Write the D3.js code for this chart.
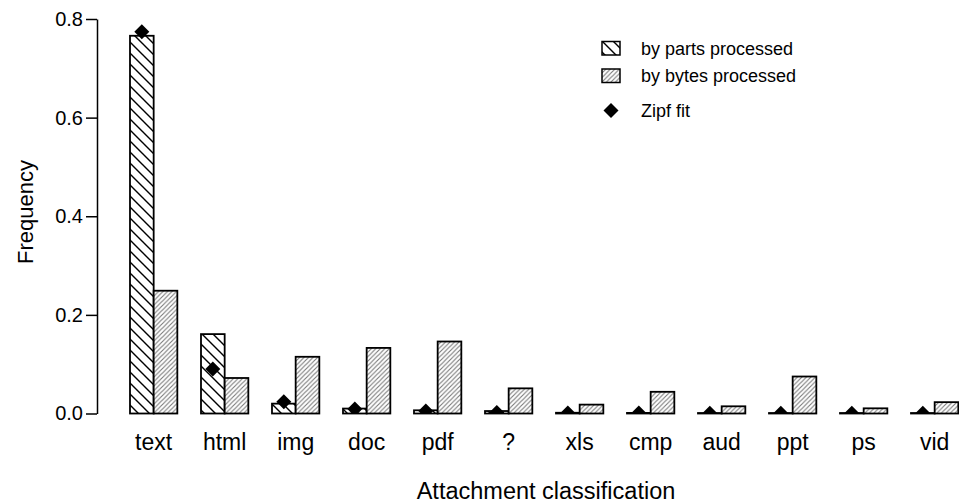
<!DOCTYPE html>
<html><head><meta charset="utf-8">
<script src="https://cdn.jsdelivr.net/npm/d3@7"></script>
<style>
html,body{margin:0;padding:0;background:#fff;}
svg{display:block;font-family:"Liberation Sans",Arial,Helvetica,sans-serif;}
</style></head>
<body>
<svg id="chart" width="959" height="503"></svg>
<script>
const categories = ["text","html","img","doc","pdf","?","xls","cmp","aud","ppt","ps","vid"];
const partsValues = [0.766,0.161,0.020,0.010,0.0065,0.005,0.0015,0.0012,0.001,0.001,0.001,0.001];
const bytesValues = [0.249,0.072,0.115,0.133,0.146,0.051,0.018,0.044,0.0146,0.075,0.0105,0.023];
const zipfValues  = [0.774,0.090,0.024,0.009,0.005,0.002,0.001,0.0008,0.0007,0.0006,0.0005,0.0005];
const yTicks = [0,0.2,0.4,0.6,0.8];
const legendLabels = ["by parts processed","by bytes processed","Zipf fit"];

const svg = d3.select("#chart");
const x = d3.scaleLinear().domain([0,36]).range([106.33,958.33]);
const y = d3.scaleLinear().domain([0,0.8]).range([413.5,19]);

const defs = svg.append("defs");
const p1 = defs.append("pattern").attr("id","hatchParts").attr("patternUnits","userSpaceOnUse")
  .attr("width",11).attr("height",11);
p1.append("rect").attr("width",11).attr("height",11).attr("fill","#fff");
p1.append("path").attr("d","M-1,-1L12,12M-6,5L6,17M5,-6L17,6").attr("stroke","#000").attr("stroke-width",1.4);
const p2 = defs.append("pattern").attr("id","hatchBytes").attr("patternUnits","userSpaceOnUse")
  .attr("width",4.5).attr("height",4.5);
p2.append("rect").attr("width",4.5).attr("height",4.5).attr("fill","#fff");
p2.append("path").attr("d","M-1,5.5L5.5,-1M-3.25,3.25L3.25,-3.25M1.25,7.75L7.75,1.25").attr("stroke","#777").attr("stroke-width",1.1);
defs.append("clipPath").attr("id","plotClip").append("rect")
  .attr("x",0).attr("y",0).attr("width",959).attr("height",y(0));

// bars
const g = svg.append("g");
g.selectAll("rect.parts").data(partsValues).join("rect").attr("class","parts")
  .attr("x",(d,i)=>x(1+3*i)).attr("width",x(2)-x(1))
  .attr("y",d=>y(d)).attr("height",d=>y(0)-y(d))
  .attr("fill","url(#hatchParts)").attr("stroke","#000").attr("stroke-width",1.8);
g.selectAll("rect.bytes").data(bytesValues).join("rect").attr("class","bytes")
  .attr("x",(d,i)=>x(2+3*i)).attr("width",x(2)-x(1))
  .attr("y",d=>y(d)).attr("height",d=>y(0)-y(d))
  .attr("fill","url(#hatchBytes)").attr("stroke","#000").attr("stroke-width",1.8);

// zipf diamonds
const dia = "M0,-7.5L7.5,0L0,7.5L-7.5,0Z";
svg.append("g").attr("clip-path","url(#plotClip)")
  .selectAll("path").data(zipfValues).join("path")
  .attr("d",dia).attr("transform",(d,i)=>`translate(${x(1.5+3*i)},${y(d)})`)
  .attr("fill","#000");

// y axis
const ax = svg.append("g").attr("transform",`translate(97,0)`)
  .call(d3.axisLeft(y).tickValues(yTicks).tickFormat(d3.format(".1f")).tickSize(11).tickSizeOuter(0).tickPadding(3));
ax.select(".domain").attr("stroke","#000").attr("stroke-width",1.5);
ax.selectAll(".tick line").attr("stroke","#000").attr("stroke-width",1.5);
ax.selectAll(".tick text").attr("font-size",20).attr("fill","#000").attr("font-family","'Liberation Sans',Arial,sans-serif");

// category labels
svg.append("g").selectAll("text").data(categories).join("text")
  .attr("x",(d,i)=>x(2+3*i)).attr("y",450).attr("text-anchor","middle")
  .attr("font-size",23).text(d=>d);

// axis titles
svg.append("text").attr("x",546).attr("y",499).attr("text-anchor","middle").attr("font-size",23.5)
  .text("Attachment classification");
svg.append("text").attr("transform",`translate(33,212) rotate(-90)`).attr("text-anchor","middle").attr("font-size",22)
  .text("Frequency");

// legend
const lg = svg.append("g");
lg.append("rect").attr("x",602).attr("y",41.5).attr("width",18).attr("height",13.5)
  .attr("fill","url(#hatchParts)").attr("stroke","#000").attr("stroke-width",1.5);
lg.append("rect").attr("x",602).attr("y",69).attr("width",18).attr("height",13.5)
  .attr("fill","url(#hatchBytes)").attr("stroke","#000").attr("stroke-width",1.5);
lg.append("path").attr("d",dia).attr("transform","translate(611,110.5)").attr("fill","#000");
lg.selectAll("text").data(legendLabels).join("text")
  .attr("x",641).attr("y",(d,i)=>[54.5,82,116.5][i]).attr("font-size",18).text(d=>d);
</script>
</body></html>
